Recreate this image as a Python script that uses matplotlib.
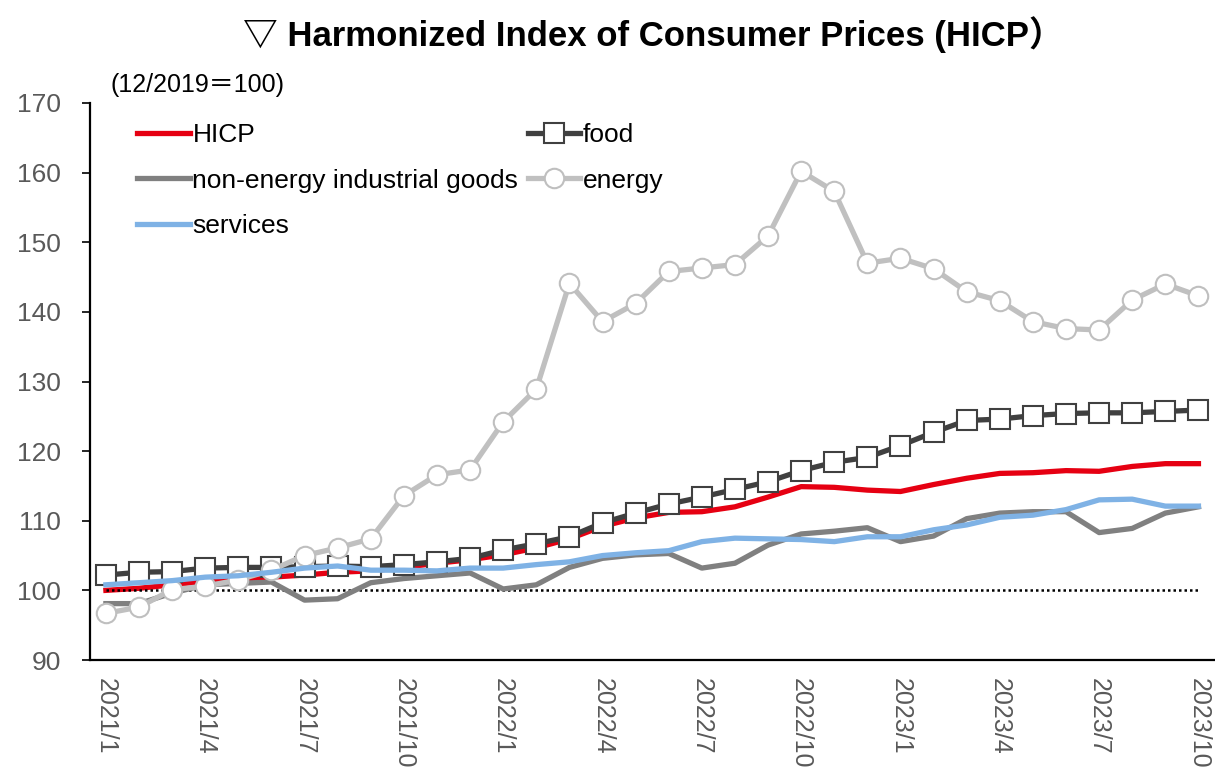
import matplotlib
matplotlib.use("Agg")
import matplotlib.pyplot as plt
from matplotlib import font_manager

names = {f.name for f in font_manager.fontManager.ttflist}
base = 'Liberation Sans Narrow' if 'Liberation Sans Narrow' in names else 'Liberation Sans'
FAM = [base, 'Noto Sans CJK JP', 'DejaVu Sans']
plt.rcParams['font.family'] = FAM

months = [f"{y}/{m}" for y in (2021, 2022, 2023) for m in range(1, 13)][:34]
tick_labels = ["2021/1", "2021/4", "2021/7", "2021/10", "2022/1", "2022/4", "2022/7",
               "2022/10", "2023/1", "2023/4", "2023/7", "2023/10"]

hicp = [100.0, 100.3, 100.8, 101.3, 101.6, 101.9, 102.2, 102.6, 102.8, 103.3, 103.9, 104.4,
        105.1, 106.1, 107.4, 109.2, 110.4, 111.2, 111.3, 112.0, 113.4, 114.9, 114.8, 114.4,
        114.2, 115.2, 116.1, 116.8, 116.9, 117.2, 117.1, 117.8, 118.2, 118.2]
food = [102.2, 102.6, 102.7, 103.2, 103.3, 103.3, 103.4, 103.5, 103.4, 103.7, 104.1, 104.6,
        105.8, 106.7, 107.7, 109.7, 111.1, 112.4, 113.4, 114.5, 115.6, 117.2, 118.4, 119.1,
        120.8, 122.7, 124.4, 124.6, 125.1, 125.4, 125.5, 125.5, 125.7, 125.9]
neig = [98.1, 98.1, 99.6, 100.8, 101.0, 101.2, 98.6, 98.8, 101.1, 101.7, 102.1, 102.5,
        100.2, 100.8, 103.3, 104.6, 105.1, 105.3, 103.2, 103.9, 106.5, 108.1, 108.5, 109.0,
        107.0, 107.8, 110.3, 111.1, 111.3, 111.3, 108.3, 108.9, 111.1, 112.0]
energy = [96.7, 97.6, 100.1, 100.6, 101.5, 102.9, 105.0, 106.1, 107.4, 113.6, 116.6, 117.3,
          124.2, 128.9, 144.1, 138.6, 141.2, 145.8, 146.3, 146.8, 150.9, 160.2, 157.3, 147.0,
          147.7, 146.2, 142.9, 141.6, 138.6, 137.6, 137.4, 141.7, 144.0, 142.3]
services = [100.8, 101.1, 101.4, 101.9, 102.1, 102.6, 103.2, 103.5, 102.9, 102.9, 102.8, 103.2,
            103.2, 103.7, 104.1, 105.0, 105.4, 105.7, 107.0, 107.5, 107.4, 107.3, 107.0, 107.7,
            107.7, 108.7, 109.4, 110.5, 110.8, 111.6, 113.0, 113.1, 112.1, 112.1]

x = list(range(len(months)))

fig = plt.figure(figsize=(12.15, 7.72), dpi=100)
ax = fig.add_axes([90/1215, 1-660/772, 1125/1215, 557/772])

lw = 3.8
h_hicp, = ax.plot(x, hicp, color='#E60012', lw=lw, zorder=2, label='HICP')
ax.hlines(100, x[0], x[-1], colors='black', linestyles=(0, (1, 1.2)), lw=1.8, zorder=2.5)
h_neig, = ax.plot(x, neig, color='#808080', lw=lw, zorder=3, label='non-energy industrial goods')
h_food, = ax.plot(x, food, color='#404040', lw=lw, marker='s', ms=15, mfc='white',
                  mec='#404040', mew=1.5, zorder=4, label='food')
h_en, = ax.plot(x, energy, color='#C0C0C0', lw=lw, marker='o', ms=14, mfc='white',
                mec='#BFBFBF', mew=1.5, zorder=5, label='energy')
h_srv, = ax.plot(x, services, color='#7FB2E5', lw=lw, zorder=6, label='services')

ax.set_xlim(-0.48, 33.5)
ax.set_ylim(90, 170)
ax.set_yticks(range(90, 171, 10))
ax.set_xticks([months.index(t) for t in tick_labels])
ax.set_xticklabels(tick_labels, rotation=270, ha='center', va='top')
ax.tick_params(axis='x', length=0, pad=13, labelsize=18, labelcolor='#595959')
ax.tick_params(axis='y', length=6, width=1.2, direction='out', pad=15, labelsize=19,
               labelcolor='#595959')
for s in ('top', 'right'):
    ax.spines[s].set_visible(False)
for s in ('left', 'bottom'):
    ax.spines[s].set_linewidth(1.6)
    ax.spines[s].set_color('black')

leg = ax.legend(handles=[h_hicp, h_neig, h_srv, h_food, h_en], ncol=2, frameon=False,
                loc='upper left', bbox_to_anchor=(137/1215, 1-123/772),
                bbox_transform=fig.transFigure, fontsize=19, handlelength=2.0,
                handletextpad=0.1, columnspacing=0.35, labelspacing=0.82, borderpad=0,
                borderaxespad=0)
for t in leg.get_texts():
    t.set_color('black')

fig.text(110/1215, 1-85/772, '(12/2019＝100)', fontsize=18, ha='left', va='center',
         color='black', family=FAM)
fig.text(653/1215, 1-35/772, '▽ Harmonized Index of Consumer Prices (HICP）', fontsize=25,
         fontweight='bold', ha='center', va='center', color='black',
         family=[base, 'Noto Sans CJK JP', 'DejaVu Sans'])

fig.savefig('out.png', dpi=100)
